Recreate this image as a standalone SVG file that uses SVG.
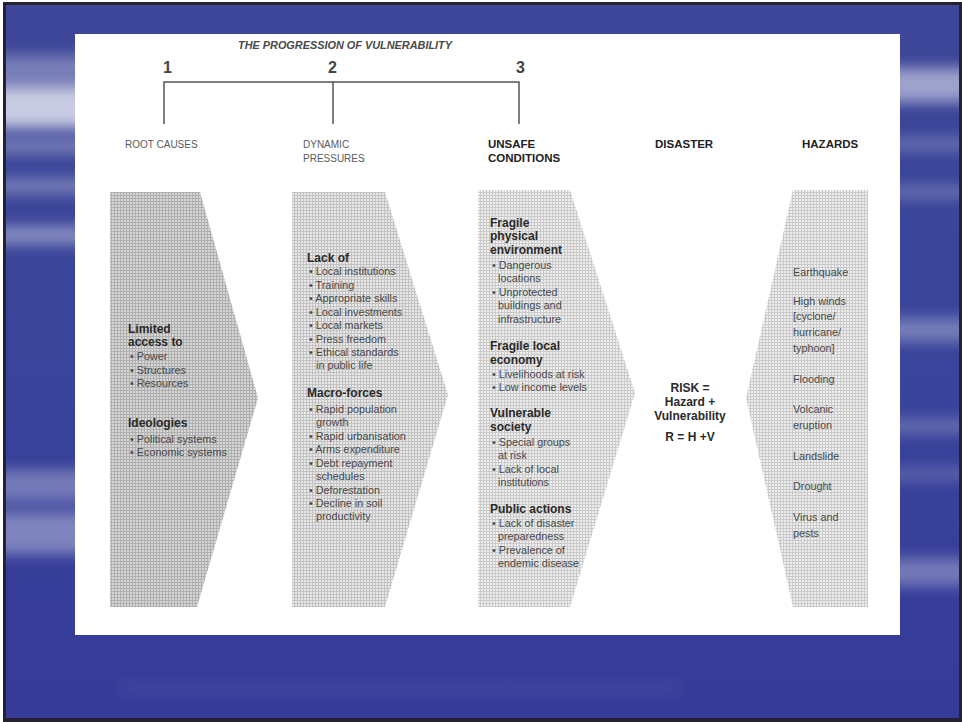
<svg xmlns="http://www.w3.org/2000/svg" width="962" height="722" viewBox="0 0 962 722">
<defs>
<linearGradient id="bg" x1="0" y1="0" x2="0" y2="1">
<stop offset="0" stop-color="#3e4799"/>
<stop offset="0.5" stop-color="#39449a"/>
<stop offset="1" stop-color="#363b99"/>
</linearGradient>
<filter id="blur" x="-20%" y="-20%" width="140%" height="140%"><feGaussianBlur stdDeviation="7"/></filter>
<pattern id="p1" width="3" height="3" patternUnits="userSpaceOnUse">
<rect width="3" height="3" fill="#d6d6d6"/><rect width="3" height="1" fill="#afafaf"/><rect width="1" height="3" fill="#afafaf"/>
</pattern>
<pattern id="p2" width="3" height="3" patternUnits="userSpaceOnUse">
<rect width="3" height="3" fill="#e8e8e8"/><rect width="3" height="1" fill="#c2c2c2"/><rect width="1" height="3" fill="#c2c2c2"/>
</pattern>
<pattern id="p3" width="3" height="3" patternUnits="userSpaceOnUse">
<rect width="3" height="3" fill="#eeeeee"/><rect width="3" height="1" fill="#cacaca"/><rect width="1" height="3" fill="#cacaca"/>
</pattern>
</defs>
<style>
text{font-family:"Liberation Sans",Arial,sans-serif}
.t{font-size:11px;font-weight:bold;font-style:italic;fill:#4a4a4a}
.n{font-size:16px;font-weight:bold;fill:#444}
.lt{font-size:10px;fill:#5a5a5a}
.hd{font-size:11.5px;font-weight:bold;fill:#222}
.h{font-size:12px;font-weight:bold;fill:#2a2a2a}
.b{font-size:10.8px;fill:#4a4a4a}
.r{font-size:12px;font-weight:bold;fill:#2a2a2a;text-anchor:middle}
.ln{stroke:#555;stroke-width:1.5;fill:none}
.cl{fill:#ffffff}
</style>

<g id="background">
<rect width="962" height="722" fill="#ffffff"/>
<rect x="3" y="2" width="959" height="720" fill="#24222c"/>
<rect x="6" y="5" width="953" height="713" fill="url(#bg)"/>
<g filter="url(#blur)">
<rect class="cl" x="-20" y="88" width="120" height="40" opacity="0.72"/>
<rect class="cl" x="-20" y="55" width="120" height="35" opacity="0.3"/>
<rect class="cl" x="-20" y="138" width="120" height="16" opacity="0.3"/>
<rect class="cl" x="-20" y="178" width="120" height="16" opacity="0.3"/>
<rect class="cl" x="-20" y="226" width="120" height="18" opacity="0.4"/>
<rect class="cl" x="-20" y="470" width="120" height="32" opacity="0.3"/>
<rect class="cl" x="-20" y="512" width="120" height="42" opacity="0.36"/>
<rect class="cl" x="880" y="68" width="100" height="34" opacity="0.5"/>
<rect class="cl" x="880" y="138" width="100" height="12" opacity="0.25"/>
<rect class="cl" x="880" y="186" width="100" height="12" opacity="0.25"/>
<rect class="cl" x="880" y="318" width="100" height="24" opacity="0.3"/>
<rect class="cl" x="880" y="418" width="100" height="16" opacity="0.22"/>
<rect class="cl" x="880" y="468" width="100" height="12" opacity="0.2"/>
<rect class="cl" x="880" y="558" width="100" height="28" opacity="0.3"/>
<rect class="cl" x="120" y="682" width="560" height="12" opacity="0.06"/>
</g>
<rect x="3" y="2" width="3" height="720" fill="#24222c"/>
<rect x="3" y="2" width="959" height="3" fill="#24222c"/>
<rect x="959" y="2" width="3" height="720" fill="#24222c"/>
<rect x="3" y="718" width="959" height="4" fill="#24222c"/>
<rect id="panel" x="75" y="34" width="825" height="601" fill="#ffffff"/>
</g>

<g id="title">
<text class="t" x="238" y="49" textLength="214" lengthAdjust="spacingAndGlyphs">THE PROGRESSION OF VULNERABILITY</text>
<text class="n" x="163" y="73">1</text>
<text class="n" x="328" y="73">2</text>
<text class="n" x="516" y="73">3</text>
</g>

<g id="connectors">
<path class="ln" d="M164,124 V82 H519 V124"/>
<path class="ln" d="M333,82 V124"/>
</g>

<g id="headers">
<text class="lt" x="125" y="148">ROOT CAUSES</text>
<text class="lt" x="303" y="148">DYNAMIC</text>
<text class="lt" x="303" y="162">PRESSURES</text>
<text class="hd" x="488" y="148">UNSAFE</text>
<text class="hd" x="488" y="162">CONDITIONS</text>
<text class="hd" x="655" y="148">DISASTER</text>
<text class="hd" x="802" y="148">HAZARDS</text>
</g>

<g id="root-causes">
<polygon points="110,192 200,192 258,398 197,607 110,607" fill="url(#p1)"/>
<text class="h" x="128" y="333">Limited</text>
<text class="h" x="128" y="346">access to</text>
<text class="b" x="130" y="360">• Power</text>
<text class="b" x="130" y="374">• Structures</text>
<text class="b" x="130" y="387">• Resources</text>
<text class="h" x="128" y="427">Ideologies</text>
<text class="b" x="130" y="443">• Political systems</text>
<text class="b" x="130" y="456">• Economic systems</text>
</g>

<g id="dynamic-pressures">
<polygon points="292,192 385,192 448,395 385,607 292,607" fill="url(#p2)"/>
<text class="h" x="307" y="262">Lack of</text>
<text class="b" x="309" y="275">• Local institutions</text>
<text class="b" x="309" y="289">• Training</text>
<text class="b" x="309" y="302">• Appropriate skills</text>
<text class="b" x="309" y="316">• Local investments</text>
<text class="b" x="309" y="329">• Local markets</text>
<text class="b" x="309" y="343">• Press freedom</text>
<text class="b" x="309" y="356">• Ethical standards</text>
<text class="b" x="316" y="369">in public life</text>
<text class="h" x="307" y="397">Macro-forces</text>
<text class="b" x="309" y="413">• Rapid population</text>
<text class="b" x="316" y="426">growth</text>
<text class="b" x="309" y="440">• Rapid urbanisation</text>
<text class="b" x="309" y="453">• Arms expenditure</text>
<text class="b" x="309" y="467">• Debt repayment</text>
<text class="b" x="316" y="480">schedules</text>
<text class="b" x="309" y="494">• Deforestation</text>
<text class="b" x="309" y="507">• Decline in soil</text>
<text class="b" x="316" y="520">productivity</text>
</g>

<g id="unsafe-conditions">
<polygon points="478,190 570,190 635,393 570,607 478,607" fill="url(#p3)"/>
<text class="h" x="490" y="227">Fragile</text>
<text class="h" x="490" y="240">physical</text>
<text class="h" x="490" y="254">environment</text>
<text class="b" x="492" y="269">• Dangerous</text>
<text class="b" x="498" y="282">locations</text>
<text class="b" x="492" y="296">• Unprotected</text>
<text class="b" x="498" y="309">buildings and</text>
<text class="b" x="498" y="323">infrastructure</text>
<text class="h" x="490" y="350">Fragile local</text>
<text class="h" x="490" y="364">economy</text>
<text class="b" x="492" y="378">• Livelihoods at risk</text>
<text class="b" x="492" y="391">• Low income levels</text>
<text class="h" x="490" y="417">Vulnerable</text>
<text class="h" x="490" y="431">society</text>
<text class="b" x="492" y="446">• Special groups</text>
<text class="b" x="498" y="459">at risk</text>
<text class="b" x="492" y="473">• Lack of local</text>
<text class="b" x="498" y="486">institutions</text>
<text class="h" x="490" y="513">Public actions</text>
<text class="b" x="492" y="527">• Lack of disaster</text>
<text class="b" x="498" y="540">preparedness</text>
<text class="b" x="492" y="554">• Prevalence of</text>
<text class="b" x="498" y="567">endemic disease</text>
</g>

<g id="disaster">
<text class="r" x="690" y="392">RISK =</text>
<text class="r" x="690" y="406">Hazard +</text>
<text class="r" x="690" y="420">Vulnerability</text>
<text class="r" x="690" y="441">R = H +V</text>
</g>

<g id="hazards">
<polygon points="793,190 868,190 868,607 793,607 746,398" fill="url(#p3)"/>
<text class="b" x="793" y="276">Earthquake</text>
<text class="b" x="793" y="305">High winds</text>
<text class="b" x="793" y="320">[cyclone/</text>
<text class="b" x="793" y="336">hurricane/</text>
<text class="b" x="793" y="352">typhoon]</text>
<text class="b" x="793" y="383">Flooding</text>
<text class="b" x="793" y="413">Volcanic</text>
<text class="b" x="793" y="429">eruption</text>
<text class="b" x="793" y="460">Landslide</text>
<text class="b" x="793" y="490">Drought</text>
<text class="b" x="793" y="521">Virus and</text>
<text class="b" x="793" y="537">pests</text>
</g>
</svg>
